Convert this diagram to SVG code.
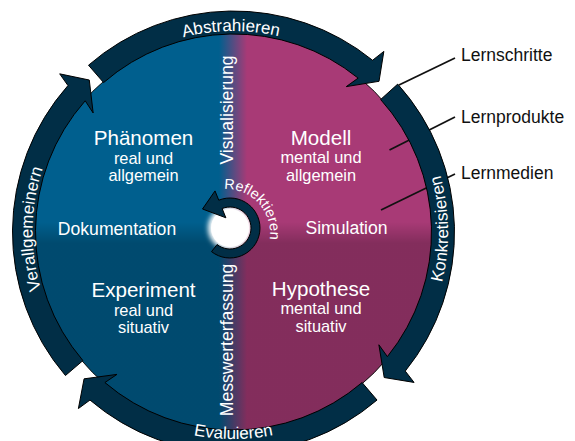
<svg xmlns="http://www.w3.org/2000/svg" width="575" height="441" viewBox="0 0 575 441">
<defs>
<style>
text{font-family:"Liberation Sans",Arial,sans-serif}
.w{fill:#ffffff}
.title{font-size:20.6px;text-anchor:middle}
.sub{font-size:16.4px;text-anchor:middle}
.med{font-size:17.6px;text-anchor:middle}
.ring{font-size:17px;fill:#ffffff}
.lbl{font-size:17.5px;fill:#111111}
.seg{fill:#012e46;stroke:#000000;stroke-width:1}
.lead{stroke:#111111;stroke-width:1.8;fill:none}
</style>
<linearGradient id="lr" gradientUnits="userSpaceOnUse" x1="219" y1="0" x2="247" y2="0">
<stop offset="0" stop-color="#005f8e"/>
<stop offset="1" stop-color="#a83a76"/>
</linearGradient>
<linearGradient id="shade" gradientUnits="userSpaceOnUse" x1="0" y1="222" x2="0" y2="243">
<stop offset="0" stop-color="#000000" stop-opacity="0"/>
<stop offset="1" stop-color="#000000" stop-opacity="0.22"/>
</linearGradient>
<filter id="blur" x="-50%" y="-50%" width="200%" height="200%">
<feGaussianBlur stdDeviation="2.5"/>
</filter>
<path id="pTop" d="M 32.5 232 A 201 201 0 0 1 434.5 232"/>
<path id="pLeft" d="M 233.5 433 A 201 201 0 0 1 233.5 31"/>
<path id="pRight" d="M 233.5 446.5 A 214.5 214.5 0 0 0 233.5 17.5"/>
<path id="pBottom" d="M 26.5 232 A 207 207 0 0 0 440.5 232"/>
<path id="pRefl" d="M 196.56 200.30 A 44 44 0 0 1 255.44 265.70"/>
</defs>

<g id="disc">
<circle cx="233.5" cy="232" r="199" fill="url(#lr)" stroke="#1a1a1a" stroke-width="1"/>
<circle cx="233.5" cy="232" r="199" fill="url(#shade)"/>
</g>

<g id="connectors">
<line class="lead" x1="399" y1="85" x2="455" y2="58"/>
<line class="lead" x1="389.5" y1="150" x2="455" y2="117"/>
<line class="lead" x1="381" y1="210" x2="455" y2="174"/>
</g>

<g id="ring">
<path id="seg-abstrahieren" class="seg" d="M 88.51 65.21 A 221 221 0 0 1 372.58 60.25 L 383.85 51.39 L 379.03 81.30 L 346.28 86.61 L 358.11 78.12 A 198 198 0 0 0 103.60 82.57 Z"/>
<path id="seg-konkretisieren" class="seg" d="M 397.73 84.12 A 221 221 0 0 1 405.25 371.08 L 414.05 382.43 L 384.20 377.53 L 378.89 344.78 L 387.38 356.61 A 198 198 0 0 0 380.64 99.51 Z"/>
<path id="seg-evaluieren" class="seg" d="M 377.03 400.05 A 221 221 0 0 1 89.97 400.05 L 78.40 408.55 L 84.07 378.84 L 116.96 374.39 L 104.91 382.56 A 198 198 0 0 0 362.09 382.56 Z"/>
<path id="seg-verallgemeinern" class="seg" d="M 65.45 375.53 A 221 221 0 0 1 67.98 85.56 L 59.69 73.84 L 89.29 80.03 L 93.17 112.99 L 85.21 100.80 A 198 198 0 0 0 82.94 360.59 Z"/>
<text class="ring"><textPath href="#pTop" startOffset="49.6%" text-anchor="middle">Abstrahieren</textPath></text>
<text class="ring"><textPath href="#pRight" startOffset="50.5%" text-anchor="middle">Konkretisieren</textPath></text>
<text class="ring"><textPath href="#pBottom" startOffset="50%" text-anchor="middle">Evaluieren</textPath></text>
<text class="ring"><textPath href="#pLeft" startOffset="50.5%" text-anchor="middle">Verallgemeinern</textPath></text>
</g>

<g id="node-phaenomen">
<text class="w title" x="143.5" y="145">Phänomen</text>
<text class="w sub" x="143.5" y="164">real und</text>
<text class="w sub" x="143.5" y="181">allgemein</text>
</g>
<g id="node-modell">
<text class="w title" x="321" y="145">Modell</text>
<text class="w sub" x="321" y="163">mental und</text>
<text class="w sub" x="321" y="181">allgemein</text>
</g>
<g id="node-experiment">
<text class="w title" x="143.5" y="297">Experiment</text>
<text class="w sub" x="143.5" y="316">real und</text>
<text class="w sub" x="143.5" y="333">situativ</text>
</g>
<g id="node-hypothese">
<text class="w title" x="321" y="296">Hypothese</text>
<text class="w sub" x="321" y="314">mental und</text>
<text class="w sub" x="321" y="332">situativ</text>
</g>
<g id="media">
<text class="w med" x="117" y="235">Dokumentation</text>
<text class="w med" x="346.5" y="234">Simulation</text>
<text class="w med" transform="translate(233,110) rotate(-90)">Visualisierung</text>
<text class="w med" transform="translate(233,340) rotate(-90)">Messwerterfassung</text>
</g>

<g id="reflektieren">
<circle cx="230" cy="228" r="22" fill="#ffffff" filter="url(#blur)"/>
<circle cx="230" cy="228" r="19" fill="#ffffff"/>
<path class="seg" d="M 211.53 251.64 A 30 30 0 1 0 218.76 200.18 L 215.02 190.91 L 202.5 209 L 225.88 217.80 L 222.13 208.53 A 21 21 0 1 1 217.07 244.55 Z"/>
<text class="w" style="font-size:14.5px"><textPath href="#pRefl" startOffset="50%" text-anchor="middle">Reflektieren</textPath></text>
</g>

<g id="legend">
<text class="lbl" x="461" y="61">Lernschritte</text>
<text class="lbl" x="461" y="123">Lernprodukte</text>
<text class="lbl" x="461" y="179">Lernmedien</text>
</g>
</svg>
